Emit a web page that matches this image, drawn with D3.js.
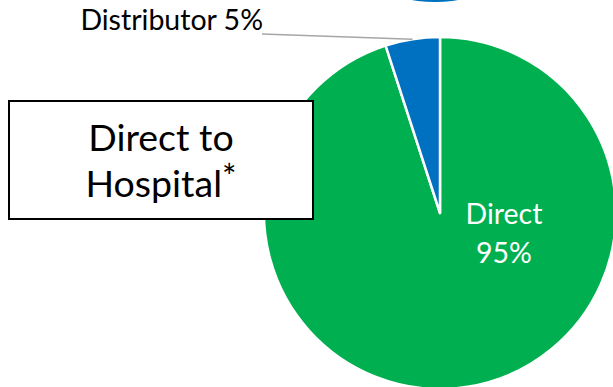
<!DOCTYPE html>
<html>
<head>
<meta charset="utf-8">
<script src="https://cdn.jsdelivr.net/npm/d3@7"></script>
<style>
  html, body { margin: 0; padding: 0; background: #fff; }
  svg { display: block; }
  text { font-family: Lato, "Open Sans", sans-serif; }
</style>
</head>
<body>
<svg id="chart" width="613" height="387"></svg>
<script>
// Channel split of sales
const categories = ["Direct", "Distributor"];
const shares = [95, 5];
const sliceColors = ["#00B050", "#0070C0"];

const W = 613, H = 387;
const cx = 440, cy = 213, radius = 176;

const svg = d3.select("#chart");

// Edge of the neighbouring blue shape peeking in at the top
svg.append("ellipse")
  .attr("cx", 435).attr("cy", -12)
  .attr("rx", 45).attr("ry", 14)
  .attr("fill", "#0070C0");

const pie = d3.pie().sort(null).value(d => d.value);
const data = categories.map((c, i) => ({ name: c, value: shares[i], color: sliceColors[i] }));
const arcs = pie(data);

const arc = d3.arc().innerRadius(0).outerRadius(radius);

const g = svg.append("g").attr("transform", `translate(${cx},${cy})`);

g.selectAll("path.slice")
  .data(arcs)
  .join("path")
  .attr("class", "slice")
  .attr("d", arc)
  .attr("fill", d => d.data.color)
  .attr("stroke", "#fff")
  .attr("stroke-width", 2.5)
  .attr("stroke-linejoin", "round");

// Inside label for the large slice
const direct = arcs[0];
const lab = g.append("text")
  .attr("fill", "#fff")
  .attr("text-anchor", "middle")
  .attr("font-size", 28.5);
lab.append("tspan").attr("x", 64).attr("y", 11).text(direct.data.name);
lab.append("tspan").attr("x", 64).attr("y", 50).text(direct.data.value + "%");

// Outside label with leader line for the small slice
const dist = arcs[1];
const edgeArc = d3.arc().innerRadius(radius).outerRadius(radius);
const [ex, ey] = edgeArc.centroid(dist);
const labelEnd = [262 - cx, 34 - cy];
g.append("line")
  .attr("x1", labelEnd[0]).attr("y1", labelEnd[1])
  .attr("x2", ex).attr("y2", ey)
  .attr("stroke", "#A6A6A6")
  .attr("stroke-width", 1.5);
g.append("text")
  .attr("x", labelEnd[0] + 1).attr("y", 30 - cy)
  .attr("text-anchor", "end")
  .attr("font-size", 28.5)
  .attr("fill", "#000")
  .text(`${dist.data.name} ${dist.data.value}%`);

// Annotation box
const box = svg.append("g");
box.append("rect")
  .attr("x", 9).attr("y", 101)
  .attr("width", 304).attr("height", 118)
  .attr("fill", "#fff")
  .attr("stroke", "#000")
  .attr("stroke-width", 2);
const bt = box.append("text")
  .attr("text-anchor", "middle")
  .attr("font-size", 37.5)
  .attr("fill", "#000");
bt.append("tspan").attr("x", 161).attr("y", 151).text("Direct to");
const l2 = bt.append("tspan").attr("x", 161).attr("y", 197);
l2.append("tspan").text("Hospital");
l2.append("tspan").attr("dy", -8).attr("font-size", 34).text("*");
</script>
</body>
</html>
